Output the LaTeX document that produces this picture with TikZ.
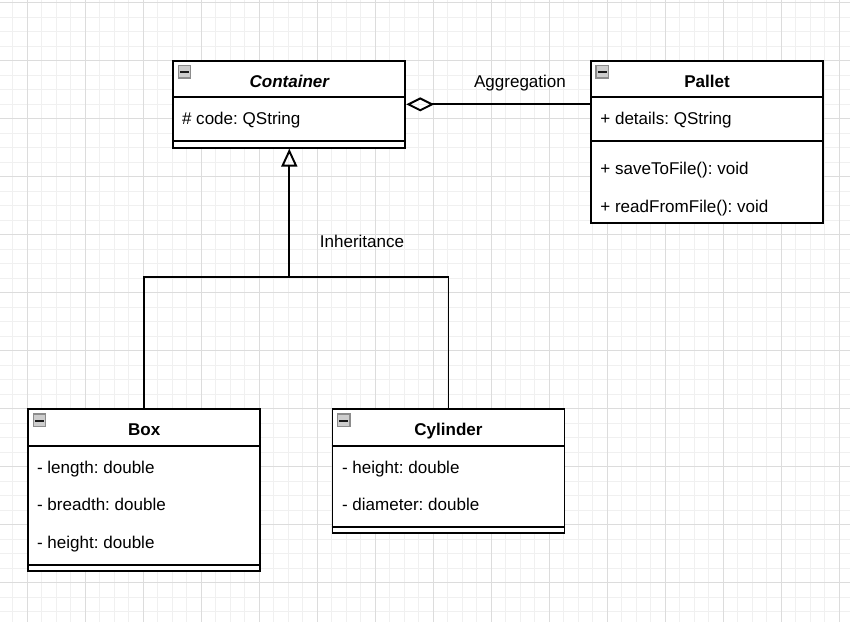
\documentclass[tikz,border=0pt]{standalone}
\usepackage{fontspec}
\setmainfont{Liberation Sans}
\usetikzlibrary{arrows.meta}
\frenchspacing

\definecolor{gridminor}{RGB}{240,240,240}
\definecolor{gridmajor}{RGB}{220,220,220}
\definecolor{iconfill}{RGB}{205,205,205}
\definecolor{iconedge}{RGB}{140,140,140}

\tikzset{
  umlclass/.style={draw=black, line width=1.1pt, fill=white, inner sep=0pt, minimum width=4.64cm},
  sep/.style={line width=1.1pt},
  member/.style={anchor=west, inner sep=0pt, text height=0.245cm, text depth=0pt, font=\fontsize{9.7}{11}\selectfont},
  classname/.style={inner sep=0pt, text height=0.245cm, text depth=0pt, font=\fontsize{9.7}{11}\selectfont\bfseries},
  edgetext/.style={inner sep=0pt, text height=0.245cm, text depth=0pt, font=\fontsize{9.7}{11}\selectfont},
  link/.style={line width=1.1pt},
}

% small collapse icon in the top left corner of a class
\newcommand{\foldicon}[1]{%
  \draw[iconedge, fill=iconfill, line width=0.7pt] (#1.north west) ++(6,5.7) rectangle ++(12.5,12.2);
  \draw[black!90, line width=1.2pt] (#1.north west) ++(7.8,12.3) -- ++(9,0);
}

\begin{document}
\begin{tikzpicture}[x=0.02cm, y=-0.02cm]
      \useasboundingbox (0,0) rectangle (850,622);
      \fill[white] (0,0) rectangle (850,622);
      % grid
      \foreach \i in {0,...,57}
        \draw[gridminor, line width=0.45pt] (12.8+14.5*\i,0) -- (12.8+14.5*\i,622);
      \foreach \j in {0,...,42}
        \draw[gridminor, line width=0.45pt] (0,2.7+14.5*\j) -- (850,2.7+14.5*\j);
      \foreach \i in {0,...,14}
        \draw[gridmajor, line width=0.45pt] (27.3+58*\i,0) -- (27.3+58*\i,622);
      \foreach \j in {0,...,10}
        \draw[gridmajor, line width=0.45pt] (0,2.7+58*\j) -- (850,2.7+58*\j);

      % classes
      \node[umlclass, minimum height=1.734cm] (container) at (289.3,104.35) {};
      \node[umlclass, minimum height=3.234cm] (pallet) at (707,141.85) {};
      \node[umlclass, minimum height=3.24cm] (box) at (144.2,490.3) {};
      \node[umlclass, minimum height=2.48cm] (cylinder) at (448.5,471.3) {};

      \draw[sep] (container.north west) ++(0,37.3) -- ++(232,0);
      \draw[sep] (container.north west) ++(0,81.3) -- ++(232,0);
      \draw[sep] (pallet.north west) ++(0,37.3) -- ++(232,0);
      \draw[sep] (pallet.north west) ++(0,81.3) -- ++(232,0);
      \draw[sep] (box.north west) ++(0,37.4) -- ++(232,0);
      \draw[sep] (box.north west) ++(0,156.4) -- ++(232,0);
      \draw[sep] (cylinder.north west) ++(0,37.4) -- ++(232,0);
      \draw[sep] (cylinder.north west) ++(0,118.4) -- ++(232,0);

      \foldicon{container}
      \foldicon{pallet}
      \foldicon{box}
      \foldicon{cylinder}

      \node[classname, font=\fontsize{9.7}{11}\selectfont\bfseries\itshape] (containerName) at (289.3,81) {Container};
      \node[member] (code) at (181.7,118.3) {\# code: QString};

      \node[classname] (palletName) at (707,81) {Pallet};
      \node[member] (details) at (600,118.3) {+ details: QString};
      \node[member] (save) at (600,168.3) {+ saveToFile(): void};
      \node[member] (read) at (600,206.7) {+ readFromFile(): void};

      \node[classname] (boxName) at (144.2,429.3) {Box};
      \node[member] (length) at (36.7,467.7) {- length: double};
      \node[member] (breadth) at (36.7,504.3) {- breadth: double};
      \node[member] (boxHeight) at (36.7,542.3) {- height: double};

      \node[classname] (cylName) at (448.5,429.3) {Cylinder};
      \node[member] (cylHeight) at (341.7,467.7) {- height: double};
      \node[member] (diameter) at (341.7,504.3) {- diameter: double};

      % relations
      \draw[link, {Diamond[open, length=0.56cm, width=0.28cm]}-] (container.east) -- (container.east -| pallet.west);
      \node[edgetext] (aggr) at (520,81.5) {Aggregation};

      \coordinate (fork) at (289.3,277.3);
      \draw[link, {Triangle[open, length=0.36cm, width=0.32cm]}-] (container.south) -- (fork);
      \draw[link] (box.north) |- (fork) -| (cylinder.north);
      \node[edgetext] (inh) at (362,241.5) {Inheritance};
\end{tikzpicture}
\end{document}
